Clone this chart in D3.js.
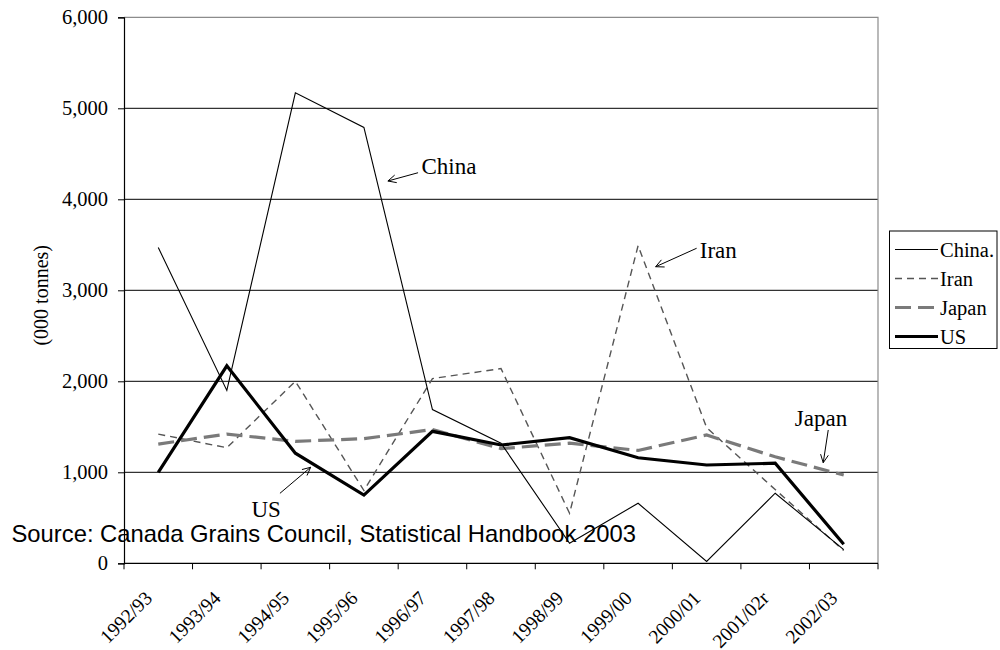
<!DOCTYPE html>
<html>
<head>
<meta charset="utf-8">
<script src="https://cdn.jsdelivr.net/npm/d3@7/dist/d3.min.js"></script>
<style>
  html, body { margin: 0; padding: 0; background: #fff; }
  svg { display: block; }
</style>
</head>
<body>
<svg id="chart" width="1000" height="650"></svg>
<script>
// Crop years on the x axis
const years = ["1992/93", "1993/94", "1994/95", "1995/96", "1996/97", "1997/98",
               "1998/99", "1999/00", "2000/01", "2001/02r", "2002/03"];

// Imports by destination, thousand tonnes
const china = [3470, 1900, 5170, 4790, 1690, 1320, 220, 660, 20, 770, 150];
const iran  = [1420, 1270, 2000, 800, 2030, 2140, 550, 3490, 1490, 810, 140];
const japan = [1310, 1420, 1340, 1370, 1470, 1260, 1320, 1240, 1410, 1170, 970];
const us    = [1000, 2170, 1210, 750, 1450, 1300, 1380, 1160, 1080, 1100, 210];

const yTicks = [0, 1000, 2000, 3000, 4000, 5000, 6000];

const seriesNames = ["China.", "Iran", "Japan", "US"];

// Callout labels placed in data space (x = year index, y = tonnes)
const calloutText = ["China", "Iran", "US", "Japan"];
const calloutTextPos = [[3.84, 4278], [7.90, 3355], [1.36, 509], [9.286, 1512]];
const calloutTail = [[3.79, 4292], [7.854, 3462], [1.775, 769], [9.774, 1465]];
const calloutHead = [[3.35, 4201], [7.256, 3259], [2.223, 1055], [9.701, 1105]];

const svg = d3.select("#chart");
const plot = { left: 124, right: 878, top: 17.3, bottom: 563.3 };

const x = d3.scaleBand().domain(years).range([plot.left, plot.right]);
const xi = d3.scaleLinear().domain([-0.5, years.length - 0.5]).range([plot.left, plot.right]);
const y = d3.scaleLinear().domain([0, 6000]).range([plot.bottom, plot.top]);

const serif = "'Liberation Serif', 'Times New Roman', serif";

// Horizontal gridlines
svg.append("g").selectAll("line")
  .data(yTicks.filter(d => d > 0 && d < 6000))
  .join("line")
  .attr("x1", plot.left).attr("x2", plot.right)
  .attr("y1", d => y(d)).attr("y2", d => y(d))
  .attr("stroke", "#000").attr("stroke-width", 1);

// Plot area frame: top and right edges in grey
svg.append("path")
  .attr("d", `M${plot.left},${y(6000)}H${plot.right}V${plot.bottom}`)
  .attr("fill", "none").attr("stroke", "#8c8c8c").attr("stroke-width", 1.2);

// Y axis
const yAxis = svg.append("g")
  .attr("transform", `translate(${plot.left},0)`)
  .call(d3.axisLeft(y).tickValues(yTicks).tickSize(6).tickPadding(10)
        .tickFormat(d3.format(",")));
yAxis.select(".domain").attr("stroke", "#000").attr("stroke-width", 1.2);
yAxis.selectAll(".tick line").attr("stroke", "#000");
yAxis.selectAll("text")
  .attr("font-family", serif).attr("font-size", 20.5).attr("fill", "#000");

// X axis with ticks at category boundaries
const xAxisG = svg.append("g").attr("transform", `translate(0,${plot.bottom})`);
xAxisG.append("line")
  .attr("x1", plot.left).attr("x2", plot.right)
  .attr("stroke", "#000").attr("stroke-width", 1.2);
xAxisG.selectAll("line.tick")
  .data(d3.range(years.length + 1))
  .join("line").attr("class", "tick")
  .attr("x1", d => xi(d - 0.5)).attr("x2", d => xi(d - 0.5))
  .attr("y1", 0).attr("y2", 6)
  .attr("stroke", "#000");
xAxisG.selectAll("text")
  .data(years)
  .join("text")
  .attr("transform", d => `translate(${x(d) + x.bandwidth() / 2 - 5},${36}) rotate(-45)`)
  .attr("text-anchor", "end")
  .attr("font-family", serif).attr("font-size", 19.5)
  .text(d => d);

// Y axis title
svg.append("text")
  .attr("transform", `translate(48,${(plot.top + plot.bottom) / 2 + 5}) rotate(-90)`)
  .attr("text-anchor", "middle")
  .attr("font-family", serif).attr("font-size", 20)
  .text("(000 tonnes)");

// Series lines
const series = [
  { name: "China.", values: china, stroke: "#000", width: 1.1, dash: null },
  { name: "Iran",   values: iran,  stroke: "#555", width: 1.4, dash: "7,5" },
  { name: "Japan",  values: japan, stroke: "#7a7a7a", width: 3.2, dash: "16,7" },
  { name: "US",     values: us,    stroke: "#000", width: 3.2, dash: null }
];

const line = d3.line()
  .x((d, i) => x(years[i]) + x.bandwidth() / 2)
  .y(d => y(d));

// Draw order: Iran, Japan, China, US on top
[1, 2, 0, 3].forEach(k => {
  const s = series[k];
  svg.append("path")
    .datum(s.values)
    .attr("d", line)
    .attr("fill", "none")
    .attr("stroke", s.stroke)
    .attr("stroke-width", s.width)
    .attr("stroke-dasharray", s.dash)
    .attr("stroke-linejoin", "miter");
});

// Source note
svg.append("text")
  .attr("x", 11.5).attr("y", 541.5)
  .attr("font-family", "'Liberation Sans', Arial, sans-serif")
  .attr("font-size", 23.8).attr("fill", "#000")
  .text("Source: Canada Grains Council, Statistical Handbook 2003");

// Callouts with open arrowheads
const callouts = svg.append("g");
calloutText.forEach((t, i) => {
  const [tx, ty] = [xi(calloutTail[i][0]), y(calloutTail[i][1])];
  const [hx, hy] = [xi(calloutHead[i][0]), y(calloutHead[i][1])];
  callouts.append("line")
    .attr("x1", tx).attr("y1", ty).attr("x2", hx).attr("y2", hy)
    .attr("stroke", "#000").attr("stroke-width", 1);
  const ang = Math.atan2(ty - hy, tx - hx);
  const len = 9, spread = 0.45;
  const p1 = [hx + len * Math.cos(ang + spread), hy + len * Math.sin(ang + spread)];
  const p2 = [hx + len * Math.cos(ang - spread), hy + len * Math.sin(ang - spread)];
  callouts.append("path")
    .attr("d", `M${p1[0]},${p1[1]}L${hx},${hy}L${p2[0]},${p2[1]}`)
    .attr("fill", "none").attr("stroke", "#000").attr("stroke-width", 1);
  callouts.append("text")
    .attr("x", xi(calloutTextPos[i][0])).attr("y", y(calloutTextPos[i][1]))
    .attr("font-family", serif).attr("font-size", 23)
    .text(t);
});

// Legend
const legend = svg.append("g");
const lg = { x: 889.5, y: 231, w: 107.5, h: 117.5, rowY: 249.5, step: 29 };
legend.append("rect")
  .attr("x", lg.x).attr("y", lg.y).attr("width", lg.w).attr("height", lg.h)
  .attr("fill", "#fff").attr("stroke", "#000").attr("stroke-width", 1);
series.forEach((s, i) => {
  const cy = lg.rowY + i * lg.step;
  legend.append("line")
    .attr("x1", 895).attr("x2", 938).attr("y1", cy).attr("y2", cy)
    .attr("stroke", s.stroke).attr("stroke-width", s.width)
    .attr("stroke-dasharray", s.dash);
  legend.append("text")
    .attr("x", 940).attr("y", cy + 7)
    .attr("font-family", serif).attr("font-size", 20.5)
    .text(seriesNames[i]);
});
</script>
</body>
</html>
